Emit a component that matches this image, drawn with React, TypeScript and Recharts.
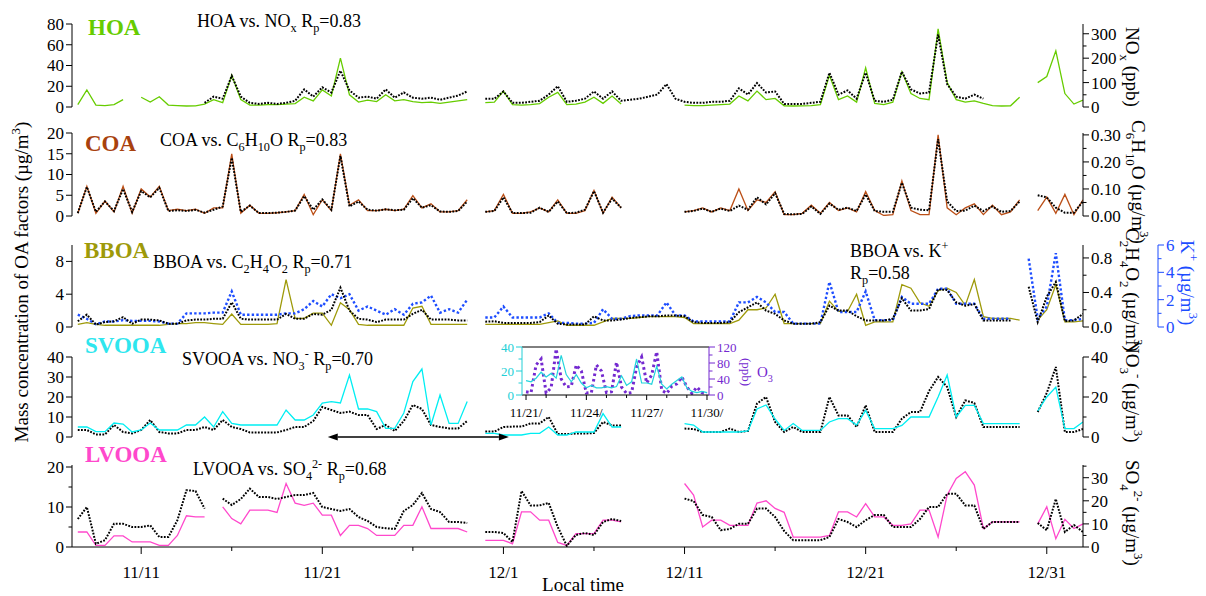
import React from "react";
import { ComposedChart, Line, XAxis, YAxis, ReferenceLine } from "recharts";

const FONT = '"Liberation Serif", "Times New Roman", Times, serif';
const W = 1206;
const H = 596;

// x is a day number: 10 = 11/11, 20 = 11/21, 30 = 12/1 ...
// main series: one value every 12 h starting 11/7 12:00 (day 6.5)
const T0 = 6.5;
const DT = 0.5;
const X_DOMAIN: [number, number] = [6.18, 62];

const xTickDays = [10, 20, 30, 40, 50, 60];
const xTickLabels = ["11/11", "11/21", "12/1", "12/11", "12/21", "12/31"];
const xMinorDays = [15, 25, 35, 45, 55];

// HOA (ug/m3) vs NOx (ppb)
const hoa = [
  null, null, null, null, null, null, null, null, null, null,
  null, null, null, null, 4, 10, 8, 30, 10, 4,
  3, 4, 3, 4, 6, 17, 10, 19, 14, 35,
  16, 9, 10, 8, 17, 9, 14, 9, 8, 9,
  7, 9, 11, 15, null, 8, 8, 15, 4, 4,
  5, 6, 12, 20, 5, 6, 8, 15, 8, 15,
  6, 7, 8, 10, 12, 22, 8, 5, 4, 4,
  5, 5, 6, 18, 12, 23, 14, 15, 3, 3,
  3, 4, 5, 33, 12, 16, 8, 33, 6, 5,
  7, 34, 17, 13, 14, 70, 22, 10, 8, 12,
  8, null, null, null, null, null, null, null, null, null,
  null, null,
];
const nox = [
  10, 70, 8, 6, 10, 30, null, 40, 20, 42,
  8, 6, 4, 5, 12, 30, 18, 130, 30, 8,
  8, 10, 10, 12, 14, 40, 25, 70, 45, 200,
  50, 20, 28, 22, 50, 25, 30, 22, 18, 20,
  15, 20, 25, 30, null, 18, 20, 65, 10, 8,
  10, 14, 40, 60, 10, 12, 20, 40, 15, 45,
  12, null, null, null, null, null, null, 8, 6, 6,
  8, 10, 12, 45, 25, 65, 30, 35, 5, 4,
  5, 6, 10, 130, 30, 45, 20, 160, 15, 10,
  20, 145, 55, 35, 30, 320, 100, 30, 20, 25,
  15, 6, 4, 5, 40, null, 100, 125, 230, 55,
  12, 28,
];

// COA (ug/m3) vs C6H10O (ug/m3)
const coa = [
  0.7, 7, 1, 3.5, 1.2, 6.5, 1, 6, 4.5, 6.8,
  1.2, 1.4, 1.2, 1.5, 0.8, 1.5, 2.3, 14, 1, 2.5,
  0.7, 0.7, 0.8, 1, 1.3, 4.8, 1.5, 4, 1.5, 14.5,
  2.3, 3.5, 1.5, 1.3, 1.6, 1.4, 1.5, 4.3, 2, 2.6,
  1.1, 1, 1.2, 3.5, null, 1, 1.2, 4.5, 0.7, 0.7,
  0.8, 2, 1, 3.5, 0.7, 0.8, 1.5, 6, 0.8, 4.2,
  2, null, null, null, null, null, null, 1, 1.2, 1.8,
  1, 1.8, 1.2, 2.5, 1.5, 4.5, 2.8, 5.5, 0.5, 0.4,
  0.5, 2.3, 0.5, 3, 1.5, 2, 1.2, 5.2, 1.2, 1,
  1, 8, 2, 1.5, 1.4, 18.5, 3.5, 1.2, 1.3, 2.5,
  1.2, 2.3, 1, 1.2, 3.5, null, 5, 4.5, 2, 0.8,
  0.8, 3.5,
];
const c6h10o = [
  0.01, 0.11, 0.01, 0.055, 0.015, 0.11, 0.01, 0.1, 0.07, 0.11,
  0.02, 0.025, 0.02, 0.025, 0.01, 0.03, 0.03, 0.23, 0.01, 0.04,
  0.01, 0.01, 0.012, 0.015, 0.02, 0.08, 0.005, 0.06, 0.02, 0.23,
  0.04, 0.06, 0.02, 0.02, 0.025, 0.02, 0.025, 0.075, 0.03, 0.045,
  0.015, 0.015, 0.02, 0.06, null, 0.015, 0.02, 0.08, 0.01, 0.01,
  0.015, 0.03, 0.015, 0.06, 0.01, 0.01, 0.02, 0.095, 0.01, 0.07,
  0.03, null, null, null, null, null, null, 0.015, 0.02, 0.03,
  0.015, 0.03, 0.02, 0.1, 0.02, 0.06, 0.05, 0.09, 0.005, 0.005,
  0.01, 0.04, 0.01, 0.05, 0.02, 0.03, 0.015, 0.09, 0.02, 0.002,
  0.005, 0.13, 0.02, 0.005, 0.005, 0.3, 0.03, 0.005, 0.03, 0.045,
  0.005, 0.04, 0.005, 0.015, 0.06, null, 0.02, 0.07, 0.01, 0.08,
  0.005, 0.06,
];

// BBOA (ug/m3) vs C2H4O2 (ug/m3) and K+ (ug/m3)
const bboa = [
  0.7, 1.5, 0.3, 0.6, 0.7, 1.2, 0.4, 0.9, 0.9, 0.8,
  0.4, 0.4, 0.8, 0.9, 0.9, 1, 1, 3, 1, 0.9,
  0.9, 0.9, 0.9, 1.6, 1, 1, 1.6, 1.5, 2.1, 4.8,
  2, 1, 0.9, 0.6, 0.9, 0.9, 0.9, 1.6, 2.1, 0.9,
  0.9, 0.9, 0.8, 0.8, null, 0.65, 0.7, 0.5, 0.5, 0.5,
  0.5, 0.6, 1.4, 0.4, 0.3, 0.3, 0.3, 1.3, 0.8, 0.8,
  0.9, 1.1, 1.2, 1.3, 1.3, 1.4, 1.4, 1.3, 0.6, 0.5,
  0.5, 0.5, 0.6, 1.8, 2.4, 3, 2, 1.6, 0.8, 0.4,
  0.4, 0.4, 0.6, 2.6, 2, 2, 1.3, 0.8, 0.8, 0.8,
  1, 3.5, 2, 2, 2.2, 4.6, 4.5, 3, 2.6, 2.8,
  0.8, 0.8, 0.8, 0.8, null, 4.9, 0.6, 3.7, 5.5, 0.7,
  0.8, 1.6,
];
const c2h4o2 = [
  0.03, 0.05, 0.03, 0.02, 0.02, 0.02, 0.02, 0.02, 0.02, 0.02,
  0.03, 0.04, 0.04, 0.05, 0.05, 0.04, 0.03, 0.15, 0.03, 0.03,
  0.03, 0.03, 0.04, 0.55, 0.1, 0.1, 0.16, 0.16, 0.02, 0.28,
  0.2, 0.03, 0.02, 0.02, 0.02, 0.02, 0.02, 0.22, 0.24, 0.03,
  0.03, 0.03, 0.03, 0.03, null, 0.03, 0.03, 0.03, 0.03, 0.03,
  0.03, 0.03, 0.05, 0.07, 0.02, 0.02, 0.02, 0.02, 0.06, 0.1,
  0.1, 0.1, 0.11, 0.12, 0.12, 0.12, 0.12, 0.11, 0.04, 0.04,
  0.04, 0.04, 0.04, 0.08, 0.2, 0.2, 0.22, 0.38, 0.04, 0.04,
  0.04, 0.04, 0.04, 0.3, 0.18, 0.18, 0.38, 0.02, 0.06, 0.06,
  0.06, 0.49, 0.45, 0.28, 0.24, 0.42, 0.45, 0.4, 0.25, 0.55,
  0.12, 0.1, 0.1, 0.1, 0.08, null, 0.08, 0.2, 0.49, 0.06,
  0.06, 0.07,
];
const kPlus = [
  0.9, 0.6, 0.2, 0.4, 0.4, 0.5, 0.45, 0.45, 0.45, 0.4,
  0.25, 0.25, 1, 1, 1, 1.05, 1.05, 2.6, 0.9, 0.9,
  0.9, 0.9, 0.9, 1, 1, 1.3, 1.9, 1.5, 2.4, 2.1,
  2.4, 1.2, 1.5, 1.2, 0.9, 1.3, 0.9, 1.7, 1.8, 2.3,
  1.05, 1.3, 1.05, 2, null, 0.7, 0.7, 1.5, 0.7, 0.7,
  0.7, 0.7, 1, 0.3, 0.3, 0.25, 0.25, 0.3, 1.3, 0.6,
  0.6, 0.8, 0.85, 0.85, 0.85, 1.8, 0.85, 0.85, 0.4, 0.4,
  0.4, 0.4, 0.4, 1.8, 1.8, 2.2, 1.8, 1.1, 1.1, 0.25,
  0.25, 0.25, 0.25, 3.3, 1.1, 1.1, 1.1, 2.6, 0.5, 0.5,
  0.5, 2.2, 1.7, 1.7, 1.7, 2.8, 2.8, 1.7, 1.7, 1.7,
  0.6, 0.6, 0.6, 0.6, null, 5, 0.6, 1.5, 5.4, 0.5,
  0.5, 0.6,
];

// SVOOA (ug/m3) vs NO3- (ug/m3)
const svooa = [
  3.5, 3.5, 1.3, 1.3, 6, 2.5, 1.8, 3.5, 8.5, 2.5,
  1.8, 1.8, 3.5, 3.5, 5, 3.5, 8.5, 5, 4, 2.3,
  2.3, 2.3, 2.3, 3.5, 5, 5, 8, 15, 13.5, 12,
  12.7, 11, 11, 4, 6, 3, 8, 16, 14, 6,
  5, 4.3, 4.3, 8, null, 2.7, 2.7, 5, 5.2, 5.2,
  6.8, 6.8, 10, 1.5, 1.5, 1.7, 1.7, 2, 7.5, 5.8,
  5.8, null, null, null, null, null, null, 4.2, 4, 2.5,
  2.5, 2.5, 4.2, 2.5, 3, 16.7, 20, 7.5, 2.5, 5,
  2.5, 2.5, 2.5, 20, 10.8, 10.8, 5, 15.8, 2.5, 2.5,
  2.5, 9.2, 12.5, 12.5, 23, 30, 25, 10, 18.3, 17,
  5, 5, 5, 5, 5, null, 12.5, 22, 35, 2.5,
  2.5, 4,
];
const no3 = [
  5, 5, 2.7, 2.7, 7, 6.5, 2.5, 3.5, 7, 3.5,
  3.5, 3.5, 6, 6, 10, 5, 12.7, 6.8, 6, 6,
  6, 6, 6, 13.5, 8.5, 8.5, 11, 17, 17.7, 17,
  31, 14, 14, 12.7, 4.3, 4.3, 12, 27.7, 34, 6,
  21, 6.8, 6.8, 17.7, null, 1.8, 1.8, 1, 1, 1,
  1.8, 1.8, 5, 1, 1, 2.5, 2.5, 2.5, 11.7, 5,
  5, null, null, null, null, null, null, 6.7, 6, 2.5,
  2.5, 2.5, 2.5, 2.5, 3, 14, 16, 9, 3.3, 6.7,
  3.3, 3.3, 3.3, 7.5, 9.2, 9.2, 6, 13.3, 4.2, 4.2,
  4.2, 5.8, 10, 10, 10, 20, 31, 10, 15.8, 15.8,
  6.7, 6.7, 6.7, 6.7, 6.7, null, 13, 20, 25, 4.2,
  4.2, 7.5,
];

// LVOOA (ug/m3) vs SO4 2- (ug/m3)
const lvooa = [
  7, 10, 0.8, 1.7, 5.8, 5.8, 5, 5, 5.4, 2.5,
  2.5, 6.7, 14.2, 14, 9.6, null, 12.1, 10.5, 12, 14.6,
  12.5, 12.5, 12, 12.5, 13, 13, 13.5, 10, 9.5, 9,
  9.5, 7.5, 6.5, 5, 4.7, 4.5, 9, 10.5, 13.5, 9.5,
  8.75, 6.25, 6.25, 6, null, 3.75, 3.75, 3.5, 1.25, 14,
  10.4, 10.4, 11, 5, 0.3, 3, 3.5, 3, 6.25, 7,
  6.5, null, null, null, null, null, null, 12.1, 11.5, 8,
  7.5, 4.2, 4.5, 5.8, 5.8, 9.6, 9.6, 7.5, 4, 1.7,
  1.7, 1.7, 1.7, 2.5, 7, 6.25, 5, 6.7, 8, 8,
  5, 5, 5, 7, 10, 10, 13.3, 13.3, 10.4, 10.4,
  4.5, 6.25, 6.25, 6.25, 6.25, null, 6, 4.2, 12, 3.75,
  5.5, 3.75,
];
const so4 = [
  6.5, 6.5, 0.7, 0.7, 4.8, 4.8, 2.2, 2.2, 2.2, 0.7,
  0.7, 5, 13.5, 13, 13, null, 17.4, 12.3, 10, 16,
  16, 16, 15, 27.5, 19, 18, 19, 13.8, 13.8, 5,
  9.4, 9.4, 8, 5, 5, 5, 9.4, 9.4, 17.4, 8,
  8, 8, 8, 6.5, null, 2.9, 2.9, 2.9, 1.4, 15.2,
  15.2, 11.6, 11.6, 2, 0.7, 5.8, 5.8, 5.8, 11.6, 11.6,
  10.9, null, null, null, null, null, null, 27.5, 22.5, 8.7,
  11.6, 11.6, 9.4, 9.4, 9.4, 19, 20, 16.7, 15, 4.3,
  4.3, 4.3, 4.3, 5, 15.2, 15.2, 13, 18.8, 13, 13,
  9.4, 9.4, 10, 16, 16, 4.3, 22.5, 29.7, 32.6, 26.8,
  8, 10.9, 10.9, 10.9, 10.9, null, 10, 17.4, 3.6, 12,
  8, 10,
];

// inset, 11/21 - 11/30, one value every 6 h from day 20
const INSET_T0 = 20;
const INSET_DT = 0.25;
const insetNo3 = [
  12, 11, 14, 19, 15, 18, 14, 33, 17, 11, 17, 10, 6, 8, 6, 6, 7, 6, 7, 16,
  8, 11, 30, 10, 10, 9, 24, 9, 5, 9, 12, 15, 6, 3, 2, 3, 2,
];
const insetO3 = [
  8, 6, 75, 90, 5, 18, 115, 40, 20, 22, 75, 60, 5, 6, 75, 60, 6, 8, 82, 20,
  4, 6, 70, 95, 30, 50, 108, 12, 4, 22, 28, 45, 20, 4, 20, 6, 4,
];
const insetTickDays = [20, 23, 26, 29];
const insetTickLabels = ["11/21/", "11/24/", "11/27/", "11/30/"];
const insetMinorDays = [21, 22, 24, 25, 27, 28];

const days = hoa.map((_, i) => T0 + i * DT);
const insetDays = insetNo3.map((_, i) => INSET_T0 + i * INSET_DT);

const hoaRows = days.map((d, i) => ({ d, hoa: hoa[i], nox: nox[i] }));
const coaRows = days.map((d, i) => ({ d, coa: coa[i], c6: c6h10o[i] }));
const bboaRows = days.map((d, i) => ({ d, bboa: bboa[i], c2: c2h4o2[i], k: kPlus[i] }));
const svooaRows = days.map((d, i) => ({ d, sv: svooa[i], no3: no3[i] }));
const lvooaRows = days.map((d, i) => ({ d, lv: lvooa[i], so4: so4[i] }));
const insetRows = insetDays.map((d, i) => ({ d, no3: insetNo3[i], o3: insetO3[i] }));

const GREEN = "#66cc00";
const BROWN = "#bb4f17";
const BROWN_TXT = "#a8410e";
const OLIVE = "#9e9a0a";
const BLUE = "#1d4dff";
const CYAN = "#00eef2";
const CYAN_TXT = "#2ee6ee";
const PINK = "#ff48cc";
const PURPLE = "#7429d0";

const dotted = {
  stroke: "#000",
  strokeWidth: 2,
  strokeDasharray: "1.8 1.4",
  dot: false,
  type: "linear" as const,
  isAnimationActive: false,
};

function near(list: number[], v: number) {
  return list.some((m) => Math.abs(m - v) < 1e-6);
}

function YTick(p: any) {
  const { x, y, payload, side, labels, fmt, color, size } = p;
  const v = payload.value;
  const lab = near(labels, v);
  const len = lab ? 6 : 3.5;
  const dir = side === "left" ? -1 : 1;
  return (
    <g>
      <line x1={x} y1={y} x2={x + dir * len} y2={y} stroke={color} strokeWidth={1} />
      {lab && (
        <text
          x={x + dir * (len + 2)}
          y={y}
          dy="0.35em"
          textAnchor={side === "left" ? "end" : "start"}
          fill={color}
          fontSize={size}
          fontFamily={FONT}
        >
          {fmt ? fmt(v) : v}
        </text>
      )}
    </g>
  );
}

function XTick(p: any) {
  const { x, y, payload, days, labels, size, majorLen, minorLen, gap } = p;
  const v = payload.value;
  const idx = days.findIndex((m: number) => Math.abs(m - v) < 1e-6);
  return (
    <g>
      <line x1={x} y1={y} x2={x} y2={y + (idx >= 0 ? majorLen : minorLen)} stroke="#000" />
      {idx >= 0 && (
        <text x={x} y={y + gap} textAnchor="middle" fontSize={size} fontFamily={FONT} fill="#000">
          {labels[idx]}
        </text>
      )}
    </g>
  );
}

function makeY(o: {
  id: string;
  side: "left" | "right";
  width: number;
  domain: [number, number];
  ticks: number[];
  labels: number[];
  fmt?: (v: number) => string;
  color?: string;
  size?: number;
}) {
  const color = o.color ?? "#000";
  return (
    <YAxis
      key={o.id}
      yAxisId={o.id}
      orientation={o.side}
      width={o.width}
      type="number"
      domain={o.domain}
      allowDataOverflow
      ticks={o.ticks}
      interval={0}
      tickSize={0}
      tickMargin={0}
      tickLine={false}
      axisLine={{ stroke: color, strokeWidth: 1 }}
      tick={(p: any) => (
        <YTick {...p} side={o.side} labels={o.labels} fmt={o.fmt} color={color} size={o.size ?? 17} />
      )}
    />
  );
}

function Arrow(p: any) {
  const { x1, y1, x2, y2 } = p;
  const h = 10;
  const w = 3.5;
  return (
    <g>
      <line x1={x1 + h} y1={y1} x2={x2 - h} y2={y2} stroke="#000" strokeWidth={1.4} />
      <polygon points={`${x1},${y1} ${x1 + h},${y1 - w} ${x1 + h},${y1 + w}`} fill="#000" />
      <polygon points={`${x2},${y2} ${x2 - h},${y2 - w} ${x2 - h},${y2 + w}`} fill="#000" />
    </g>
  );
}

type Seg = [string, string?];

function Rich(props: {
  x: number;
  y: number;
  segs: Seg[];
  size: number;
  fill?: string;
  rotate?: number;
  anchor?: "start" | "middle" | "end";
  weight?: string;
}) {
  const { x, y, segs, size, fill = "#000", rotate = 0, anchor = "start", weight = "normal" } = props;
  let shift = 0;
  const spans = segs.map((s, i) => {
    const kind = s[1];
    const target = kind === "sub" ? size * 0.3 : kind === "sup" ? -size * 0.4 : 0;
    const dy = target - shift;
    shift = target;
    return (
      <tspan key={i} dy={dy} fontSize={kind ? size * 0.68 : size}>
        {s[0]}
      </tspan>
    );
  });
  return (
    <text
      transform={`translate(${x},${y}) rotate(${rotate})`}
      fill={fill}
      fontSize={size}
      fontFamily={FONT}
      fontWeight={weight}
      textAnchor={anchor}
    >
      {spans}
    </text>
  );
}

const layer: React.CSSProperties = { position: "absolute", left: 0, top: 0 };
const hiddenX = <XAxis dataKey="d" type="number" domain={X_DOMAIN} allowDataOverflow hide />;

export default function App() {
  return (
    <div style={{ position: "absolute", left: 0, top: 0, width: W, height: H, background: "#fff", overflow: "hidden" }}>
      {/* HOA */}
      <div style={layer}>
        <ComposedChart width={W} height={H} data={hoaRows} margin={{ top: 24, right: 0, bottom: H - 107, left: 0 }}>
          {hiddenX}
          {makeY({ id: "l", side: "left", width: 72, domain: [0, 80], ticks: [0, 20, 40, 60, 80], labels: [0, 20, 40, 60, 80] })}
          {makeY({ id: "r", side: "right", width: 123, domain: [0, 340], ticks: [0, 50, 100, 150, 200, 250, 300], labels: [0, 100, 200, 300] })}
          <Line yAxisId="r" dataKey="nox" stroke={GREEN} strokeWidth={1.3} dot={false} type="linear" isAnimationActive={false} />
          <Line yAxisId="l" dataKey="hoa" {...dotted} />
        </ComposedChart>
      </div>

      {/* COA */}
      <div style={layer}>
        <ComposedChart width={W} height={H} data={coaRows} margin={{ top: 133, right: 0, bottom: H - 216, left: 0 }}>
          {hiddenX}
          {makeY({ id: "l", side: "left", width: 72, domain: [0, 20], ticks: [0, 5, 10, 15, 20], labels: [0, 5, 10, 15, 20] })}
          {makeY({
            id: "r",
            side: "right",
            width: 123,
            domain: [0, 0.307],
            ticks: [0, 0.05, 0.1, 0.15, 0.2, 0.25, 0.3],
            labels: [0, 0.1, 0.2, 0.3],
            fmt: (v) => v.toFixed(2),
          })}
          <Line yAxisId="r" dataKey="c6" stroke={BROWN} strokeWidth={1.3} dot={false} type="linear" isAnimationActive={false} />
          <Line yAxisId="l" dataKey="coa" {...dotted} />
        </ComposedChart>
      </div>

      {/* BBOA */}
      <div style={layer}>
        <ComposedChart width={W} height={H} data={bboaRows} margin={{ top: 245, right: 0, bottom: H - 327, left: 0 }}>
          {hiddenX}
          {makeY({ id: "l", side: "left", width: 72, domain: [0, 10], ticks: [0, 4, 8], labels: [0, 4, 8] })}
          {makeY({
            id: "r1",
            side: "right",
            width: 75,
            domain: [0, 0.95],
            ticks: [0, 0.2, 0.4, 0.6, 0.8],
            labels: [0, 0.4, 0.8],
            fmt: (v) => v.toFixed(1),
          })}
          {makeY({ id: "r2", side: "right", width: 48, domain: [0, 6], ticks: [0, 1, 2, 3, 4, 5, 6], labels: [0, 2, 4, 6], color: BLUE })}
          <Line yAxisId="r1" dataKey="c2" stroke={OLIVE} strokeWidth={1.3} dot={false} type="linear" isAnimationActive={false} />
          <Line yAxisId="r2" dataKey="k" stroke={BLUE} strokeWidth={2.4} strokeDasharray="2.4 2.2" dot={false} type="linear" isAnimationActive={false} />
          <Line yAxisId="l" dataKey="bboa" {...dotted} />
        </ComposedChart>
      </div>

      {/* SVOOA */}
      <div style={layer}>
        <ComposedChart width={W} height={H} data={svooaRows} margin={{ top: 357, right: 0, bottom: H - 437, left: 0 }}>
          {hiddenX}
          {makeY({ id: "l", side: "left", width: 72, domain: [0, 40], ticks: [0, 10, 20, 30, 40], labels: [0, 10, 20, 30, 40] })}
          {makeY({ id: "r", side: "right", width: 123, domain: [0, 40], ticks: [0, 10, 20, 30, 40], labels: [0, 20, 40] })}
          <Line yAxisId="l" dataKey="sv" {...dotted} />
          <Line yAxisId="r" dataKey="no3" stroke={CYAN} strokeWidth={1.3} dot={false} type="linear" isAnimationActive={false} />
          <ReferenceLine
            yAxisId="l"
            segment={[
              { x: 20.3, y: 0 },
              { x: 30.3, y: 0 },
            ]}
            ifOverflow="visible"
            shape={(p: any) => <Arrow {...p} />}
          />
        </ComposedChart>
      </div>

      {/* LVOOA */}
      <div style={layer}>
        <ComposedChart width={W} height={H} data={lvooaRows} margin={{ top: 465, right: 0, bottom: 19, left: 0 }}>
          <XAxis
            dataKey="d"
            type="number"
            domain={X_DOMAIN}
            allowDataOverflow
            ticks={[...xTickDays, ...xMinorDays].sort((a, b) => a - b)}
            interval={0}
            height={30}
            tickSize={0}
            tickMargin={0}
            tickLine={false}
            axisLine={{ stroke: "#000" }}
            tick={(p: any) => (
              <XTick {...p} days={xTickDays} labels={xTickLabels} size={17} majorLen={7} minorLen={4} gap={31} />
            )}
          />
          {makeY({ id: "l", side: "left", width: 72, domain: [0, 20.5], ticks: [0, 5, 10, 15, 20], labels: [0, 10, 20] })}
          {makeY({ id: "r", side: "right", width: 123, domain: [0, 35.5], ticks: [0, 5, 10, 15, 20, 25, 30, 35], labels: [0, 10, 20, 30] })}
          <Line yAxisId="r" dataKey="so4" stroke={PINK} strokeWidth={1.3} dot={false} type="linear" isAnimationActive={false} />
          <Line yAxisId="l" dataKey="lv" {...dotted} />
        </ComposedChart>
      </div>

      {/* inset: NO3- and O3, 11/21 - 11/30 */}
      <div style={{ position: "absolute", left: 470, top: 335 }}>
        <ComposedChart width={300} height={90} data={insetRows} margin={{ top: 12, right: 0, bottom: 0, left: 0 }}>
          <XAxis
            dataKey="d"
            type="number"
            domain={[19.8, 29.1]}
            allowDataOverflow
            ticks={[...insetTickDays, ...insetMinorDays].sort((a, b) => a - b)}
            interval={0}
            height={30}
            tickSize={0}
            tickMargin={0}
            tickLine={false}
            axisLine={{ stroke: "#000" }}
            tick={(p: any) => (
              <XTick {...p} days={insetTickDays} labels={insetTickLabels} size={13} majorLen={5} minorLen={3} gap={22} />
            )}
          />
          {makeY({ id: "il", side: "left", width: 52, domain: [0, 40], ticks: [0, 10, 20, 30, 40], labels: [0, 20, 40], color: "#22cfd6", size: 13 })}
          {makeY({
            id: "ir",
            side: "right",
            width: 61,
            domain: [0, 120],
            ticks: [0, 20, 40, 60, 80, 100, 120],
            labels: [0, 40, 80, 120],
            color: PURPLE,
            size: 13,
          })}
          <ReferenceLine yAxisId="il" y={40} stroke="#000" strokeWidth={1} />
          <Line yAxisId="ir" dataKey="o3" stroke={PURPLE} strokeWidth={3} strokeDasharray="2.6 3" dot={false} type="linear" isAnimationActive={false} />
          <Line yAxisId="il" dataKey="no3" stroke="#22d4dc" strokeWidth={1.2} dot={false} type="linear" isAnimationActive={false} />
        </ComposedChart>
      </div>

      {/* texts */}
      <svg width={W} height={H} style={layer}>
        <Rich x={88} y={35} segs={[["HOA"]]} size={23} weight="bold" fill={GREEN} />
        <Rich x={197} y={27} size={18} segs={[["HOA vs. NO"], ["x", "sub"], [" R"], ["p", "sub"], ["=0.83"]]} />
        <Rich x={85} y={151} segs={[["COA"]]} size={23} weight="bold" fill={BROWN_TXT} />
        <Rich x={160} y={146} size={18} segs={[["COA vs. C"], ["6", "sub"], ["H"], ["10", "sub"], ["O R"], ["p", "sub"], ["=0.83"]]} />
        <Rich x={84} y={258} segs={[["BBOA"]]} size={23} weight="bold" fill={OLIVE} />
        <Rich
          x={153}
          y={268}
          size={18}
          segs={[["BBOA vs. C"], ["2", "sub"], ["H"], ["4", "sub"], ["O"], ["2", "sub"], [" R"], ["p", "sub"], ["=0.71"]]}
        />
        <Rich x={850} y={257} size={18} segs={[["BBOA vs. K"], ["+", "sup"]]} />
        <Rich x={850} y={279} size={18} segs={[["R"], ["p", "sub"], ["=0.58"]]} />
        <Rich x={85} y={353} segs={[["SVOOA"]]} size={23} weight="bold" fill={CYAN_TXT} />
        <Rich x={182} y={365} size={18} segs={[["SVOOA vs. NO"], ["3", "sub"], ["-", "sup"], [" R"], ["p", "sub"], ["=0.70"]]} />
        <Rich x={85} y={462} segs={[["LVOOA"]]} size={23} weight="bold" fill={PINK} />
        <Rich x={193} y={475} size={18} segs={[["LVOOA vs. SO"], ["4", "sub"], ["2-", "sup"], [" R"], ["p", "sub"], ["=0.68"]]} />

        <Rich x={28} y={282} rotate={-90} anchor="middle" size={19} segs={[["Mass concentration of OA factors (µg/m"], ["3", "sup"], [")"]]} />
        <Rich x={583} y={591} anchor="middle" size={19} segs={[["Local time"]]} />

        <Rich x={1126} y={27} rotate={90} size={19} segs={[["NO"], ["x", "sub"], [" (ppb)"]]} />
        <Rich x={1132} y={120} rotate={90} size={19} segs={[["C"], ["6", "sub"], ["H"], ["10", "sub"], ["O (µg/m"], ["3", "sup"], [")"]]} />
        <Rich
          x={1126}
          y={228}
          rotate={90}
          size={19}
          segs={[["C"], ["2", "sub"], ["H"], ["4", "sub"], ["O"], ["2", "sub"], [" (µg/m"], ["3", "sup"], [")"]]}
        />
        <Rich x={1181} y={240} rotate={90} size={19} fill={BLUE} segs={[["K"], ["+", "sup"], [" (µg/m"], ["3", "sup"], [")"]]} />
        <Rich x={1126} y={340} rotate={90} size={19} segs={[["NO"], ["3", "sub"], ["-", "sup"], [" (µg/m"], ["3", "sup"], [")"]]} />
        <Rich x={1126} y={460} rotate={90} size={19} segs={[["SO"], ["4", "sub"], ["2-", "sup"], [" (µg/m"], ["3", "sup"], [")"]]} />

        <Rich x={742} y={358} rotate={90} size={13} fill={PURPLE} segs={[["(ppb)"]]} />
        <Rich x={757} y={377} size={15} fill={PURPLE} segs={[["O"], ["3", "sub"]]} />
      </svg>
    </div>
  );
}
